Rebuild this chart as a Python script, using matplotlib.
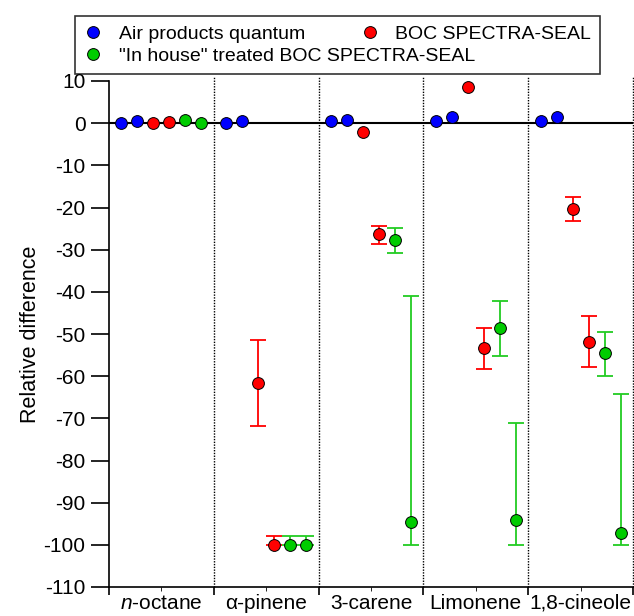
import numpy as np
import matplotlib
matplotlib.use("Agg")
import matplotlib.pyplot as plt

plt.rcParams['font.family'] = ['Liberation Sans', 'DejaVu Sans']
plt.rcParams['mathtext.fontset'] = 'custom'
plt.rcParams['mathtext.it'] = 'Liberation Sans:italic'
plt.rcParams['mathtext.rm'] = 'Liberation Sans'
plt.rcParams['axes.unicode_minus'] = False

categories = ['$\\mathit{n}$-octane', 'α-pinene', '3-carene', 'Limonene', '1,8-cineole']

# Air products quantum (two points per compound)
air_a = [0.1, 0.0, 0.5, 0.55, 0.4]
air_b = [0.5, 0.55, 0.85, 1.4, 1.5]

# BOC SPECTRA-SEAL
boc_a = [0.1, -61.6, -2.0, 8.5, -20.4]
boc_a_lo = [0, 10.2, 0, 0, 2.7]
boc_a_hi = [0, 10.1, 0, 0, 2.9]
boc_b = [0.3, -100.0, -26.4, -53.4, -51.8]
boc_b_lo = [0, 0, 2.3, 4.9, 6.1]
boc_b_hi = [0, 2.0, 2.1, 4.9, 6.0]

# "In house" treated BOC SPECTRA-SEAL
inh_a = [0.7, -100.0, -27.7, -48.6, -54.6]
inh_a_lo = [0, 0, 3.0, 6.7, 5.4]
inh_a_hi = [0, 2.0, 2.8, 6.5, 5.1]
inh_b = [0.0, -100.0, -94.6, -94.2, -97.1]
inh_b_lo = [0, 0, 5.4, 5.8, 2.9]
inh_b_hi = [0, 2.0, 53.7, 23.0, 32.8]

blue = '#0000ff'
red = '#ff0000'
green = '#00cc00'
green_err = '#22cc22'

fig = plt.figure(figsize=(6.34, 6.16), dpi=100)
ax = fig.add_axes([109 / 634, 29 / 616, 524 / 634, 506 / 616])

n = len(categories)
base = np.arange(n)
slot = lambda j: base + 0.119 + 0.1527 * j

mk = dict(marker='o', ms=8.5, mec='black', mew=0.7, linestyle='none', zorder=4)

ax.plot(slot(0), air_a, mfc=blue, **mk)
ax.plot(slot(1), air_b, mfc=blue, **mk)

series = [
    (2, boc_a, boc_a_lo, boc_a_hi, red, red),
    (3, boc_b, boc_b_lo, boc_b_hi, red, red),
    (4, inh_a, inh_a_lo, inh_a_hi, green, green_err),
    (5, inh_b, inh_b_lo, inh_b_hi, green, green_err),
]
for j, y, lo, hi, fc, ec in series:
    x = slot(j)
    has = (np.array(lo) + np.array(hi)) > 0
    ax.errorbar(x[has], np.array(y)[has],
                yerr=[np.array(lo)[has], np.array(hi)[has]],
                fmt='none', ecolor=ec, elinewidth=1.3, capsize=6, capthick=1.3, zorder=3)
    ax.plot(x, y, mfc=fc, **mk)

ax.axhline(0, color='black', lw=1.5, zorder=2)
for b in range(1, n + 1):
    ax.axvline(b, ymax=1.008, color='black', lw=1.0, ls=(0, (1, 1)), zorder=1, clip_on=False)

ax.set_xlim(0, n)
ax.set_ylim(-110, 10)
ax.set_yticks(np.arange(-110, 11, 10))
ax.set_xticks(np.arange(0, n + 1))
ax.set_xticklabels([])
ax.set_xticks(base + 0.5, minor=True)
ax.set_xticklabels(categories, minor=True)
ax.tick_params(axis='y', direction='out', length=13, width=1.2, labelsize=15, pad=4)
ax.tick_params(axis='x', which='major', direction='out', length=6, width=1.2)
ax.tick_params(axis='x', which='minor', direction='out', length=3, width=0.6,
               labelsize=15, pad=2)
for s in ['top', 'right']:
    ax.spines[s].set_visible(False)
for s in ['left', 'bottom']:
    ax.spines[s].set_linewidth(1.2)

ax.set_ylabel('Relative difference', fontsize=15.5, labelpad=2)

h_air, = ax.plot([], [], mfc=blue, **mk)
h_boc, = ax.plot([], [], mfc=red, **mk)
h_inh, = ax.plot([], [], mfc=green, **mk)
leg = fig.legend([h_air, h_inh, h_boc],
                 ['Air products quantum', '"In house" treated BOC SPECTRA-SEAL', 'BOC SPECTRA-SEAL'],
                 ncol=2, loc='lower left',
                 bbox_to_anchor=(75 / 634, 1 - 74 / 616, 525 / 634, 59 / 616),
                 mode='expand', fontsize=14, frameon=True, fancybox=False,
                 edgecolor='black', handlelength=1.0, handletextpad=0.8,
                 labelspacing=0.25, borderpad=0.45, borderaxespad=0, columnspacing=1.0)
leg.get_frame().set_linewidth(1.2)

fig.savefig('out.png', dpi=100)
